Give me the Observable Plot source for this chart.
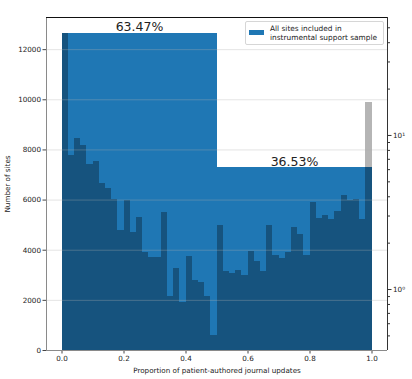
<!DOCTYPE html>
<html>
<head>
<meta charset="utf-8">
<script src="https://cdn.jsdelivr.net/npm/d3@7"></script>
<script src="https://cdn.jsdelivr.net/npm/@observablehq/plot@0.6"></script>
<style>
  html, body { margin: 0; padding: 0; background: #fff; }
  #wrap { position: relative; width: 412px; height: 379px; font-family: "DejaVu Sans", sans-serif; }
  #legend { position: absolute; left: 245px; top: 21px; width: 137px; height: 22px;
    border: 1px solid #d6d6d6; border-radius: 2px; background: rgba(255,255,255,0.85);
    font-size: 7.4px; color: #222; line-height: 9px; }
  #legend .sw { position: absolute; left: 3px; top: 8px; width: 15px; height: 5px; background: #1f77b4; }
  #legend .tx { position: absolute; left: 24px; top: 1.5px; white-space: nowrap; }
</style>
</head>
<body>
<div id="wrap">
  <div id="chart"></div>
  <div id="legend"><div class="sw"></div><div class="tx">All sites included in<br>instrumental support sample</div></div>
</div>
<script>
// Histogram: 50 bins of width 0.02 over [0, 1]
const binCount = 50;
const binCounts = [12650, 7770, 8450, 8160, 7430, 7530, 6680, 6480, 6030, 4770,
                   6000, 4720, 5290, 3890, 3720, 3720, 5490, 2170, 3290, 1930,
                   3730, 2810, 2730, 2170, 600, 5000, 3150, 3080, 3200, 2990,
                   3960, 3550, 3150, 4970, 3770, 3670, 3890, 4920, 4630, 3800,
                   5920, 5280, 5400, 5210, 5560, 6200, 6000, 6040, 5230, 7290];
// Grey bar in the last bin (secondary series)
const greyBin = [{x1: 0.98, x2: 1.0, y: 9890}];
// Two summary bars with their share labels
const halfStarts = [0, 0.5];
const halfEnds = [0.5, 1.0];
const halfHeights = [12650, 7281];
const halfLabels = ["63.47%", "36.53%"];
// Axes
const xDomain = [-0.05, 1.05];
const yDomain = [0, 13282];
const xTicks = [0, 0.2, 0.4, 0.6, 0.8, 1.0];
const yTicks = [0, 2000, 4000, 6000, 8000, 10000, 12000];
const rightLogDomain = [0.402, 58.3];
const rightMajor = [1, 10];
const rightMajorLabels = ["10\u2070", "10\u00b9"];
const rightMinor = [0.5, 0.6, 0.7, 0.8, 0.9, 2, 3, 4, 5, 6, 7, 8, 9, 20, 30, 40, 50];

const bins = binCounts.map((c, i) => ({x1: i / binCount, x2: (i + 1) / binCount, y: c}));
const halves = halfStarts.map((s, i) => ({x1: s, x2: halfEnds[i], y: halfHeights[i], label: halfLabels[i], xm: (s + halfEnds[i]) / 2}));

const logMap = d3.scaleLog().domain(rightLogDomain).range(yDomain);
const majorPos = rightMajor.map(v => logMap(v));
const labelByPos = new Map(majorPos.map((p, i) => [p, rightMajorLabels[i]]));

const dark = "#16537e";
const light = "#1f77b4";

const chart = Plot.plot({
  width: 412,
  height: 379,
  marginLeft: 46,
  marginRight: 25,
  marginTop: 17,
  marginBottom: 29,
  style: {fontFamily: "DejaVu Sans, sans-serif", fontSize: "7.2px", color: "#222", background: "#fff"},
  x: {domain: xDomain},
  y: {domain: yDomain},
  marks: [
    Plot.rectY(greyBin, {x1: "x1", x2: "x2", y: "y", fill: "#b5b5b5", shapeRendering: "crispEdges"}),
    Plot.rectY(halves, {x1: "x1", x2: "x2", y: "y", fill: light, shapeRendering: "crispEdges"}),
    Plot.rectY(bins, {x1: "x1", x2: "x2", y: "y", fill: dark, shapeRendering: "crispEdges"}),
    Plot.gridY(yTicks, {stroke: "#b0b0b0", strokeOpacity: 0.38, strokeWidth: 0.9}),
    Plot.text(halves, {x: "xm", y: "y", text: "label", lineAnchor: "bottom", dy: -2, fontSize: 12.5, fill: "#222"}),
    Plot.axisX(xTicks, {tickSize: 3.5, tickPadding: 2, tickFormat: d3.format(".1f"),
      label: "Proportion of patient-authored journal updates", labelAnchor: "center", labelArrow: "none", labelOffset: 22, stroke: "#444"}),
    Plot.axisY(yTicks, {tickSize: 3.5, tickPadding: 2, tickFormat: d3.format("d"),
      label: "Number of sites", labelAnchor: "center", labelArrow: "none", labelOffset: 42, stroke: "#444"}),
    Plot.axisY(majorPos, {anchor: "right", tickSize: 3.5, tickPadding: 2, tickFormat: d => labelByPos.get(d), label: null, stroke: "#333"}),
    Plot.axisY(rightMinor.map(v => logMap(v)), {anchor: "right", tickSize: 2, tickFormat: () => "", label: null, stroke: "#333"}),
    Plot.ruleX([xDomain[0]], {stroke: "#8a8a8a", strokeWidth: 1}),
    Plot.ruleY([yDomain[0]], {stroke: "#8a8a8a", strokeWidth: 1}),
    Plot.ruleY([yDomain[1]], {stroke: "#111", strokeWidth: 1}),
    Plot.ruleX([xDomain[1]], {stroke: "#333", strokeWidth: 1})
  ]
});
document.getElementById("chart").appendChild(chart);
</script>
</body>
</html>
